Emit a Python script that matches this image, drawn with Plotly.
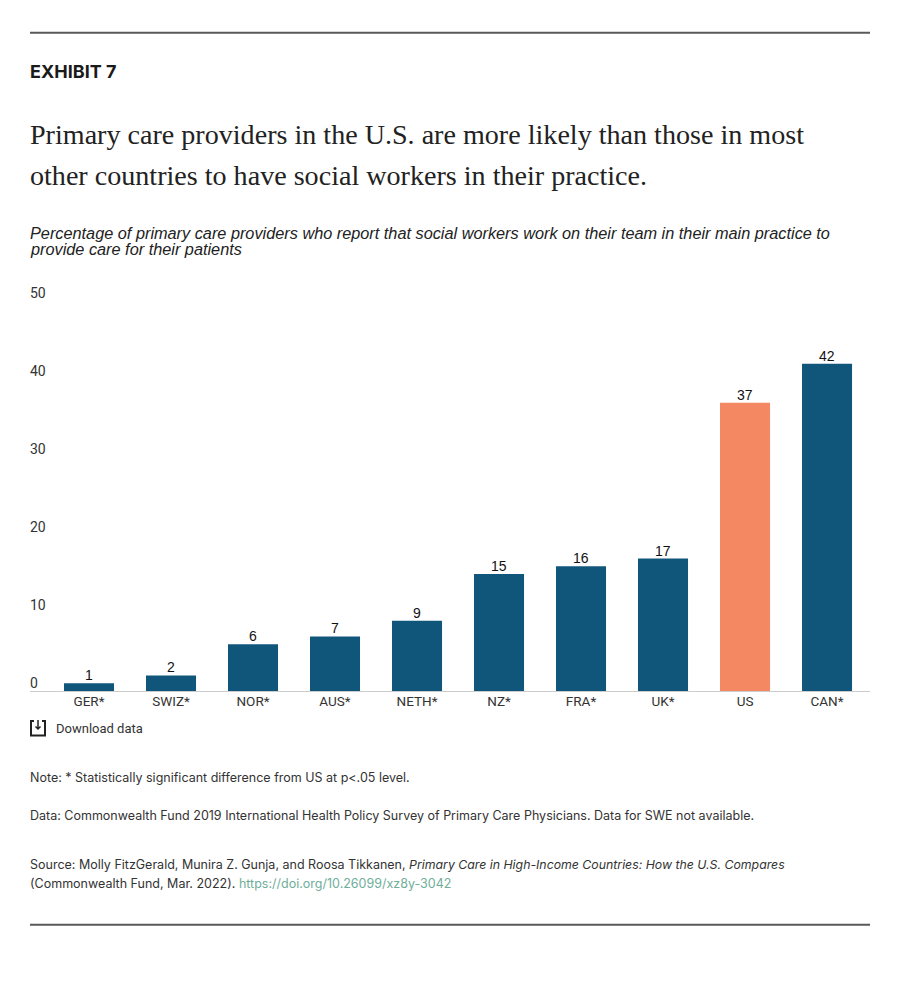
import plotly.graph_objects as go

countries = ["GER*", "SWIZ*", "NOR*", "AUS*", "NETH*", "NZ*", "FRA*", "UK*", "US", "CAN*"]
values = [1, 2, 6, 7, 9, 15, 16, 17, 37, 42]
y_ticks = [0, 10, 20, 30, 40, 50]

NAVY = "#10567b"
ORANGE = "#f38863"
colors = [ORANGE if c == "US" else NAVY for c in countries]

W, H = 900, 987
# y range runs past 50 so plotly keeps the shifted "50" tick label
Y_MAX = 53
LEFT, RIGHT, BOTTOM = 30, 870, 691
TOP = BOTTOM - 7.8 * Y_MAX


def px_x(x):
    return (x - LEFT) / (RIGHT - LEFT)


def px_y(y):
    return (BOTTOM - y) / (BOTTOM - TOP)


def label(x, y, text, family, size, color="#222222", **font_args):
    # y is the vertical middle of the line in page pixels
    fig.add_annotation(
        x=px_x(x), y=px_y(y), xref="paper", yref="paper", text=text,
        showarrow=False, xanchor="left", yanchor="middle", align="left",
        borderpad=0, borderwidth=0,
        font=dict(family=family, size=size, color=color, **font_args),
    )


def rule(y):
    fig.add_shape(type="line", xref="paper", yref="paper",
                  x0=0, x1=1, y0=px_y(y), y1=px_y(y),
                  line=dict(color="#58595b", width=2))


fig = go.Figure(go.Bar(
    x=countries, y=values, marker_color=colors, marker_line_width=0,
    cliponaxis=False, hoverinfo="x+y",
))

# value labels sit closer to the bars than textposition="outside" allows
for c, v in zip(countries, values):
    fig.add_annotation(x=c, y=v, text=str(v), showarrow=False, yanchor="bottom",
                       yshift=0, borderpad=0, borderwidth=0,
                       font=dict(family="Liberation Sans", size=14, color="#111111"))

fig.update_layout(
    width=W, height=H, autosize=False,
    margin=dict(l=LEFT, r=W - RIGHT, t=TOP, b=H - BOTTOM, pad=0),
    paper_bgcolor="white", plot_bgcolor="white",
    showlegend=False, bargap=0.39,
)
fig.update_xaxes(
    type="category", range=[-0.7195, 9.524], showgrid=False, zeroline=False,
    showline=True, linecolor="#cccccc", linewidth=1, ticks="", ticklen=0,
    ticklabelstandoff=-2,
    tickfont=dict(family="Roboto", size=13.5, color="#333333"),
    fixedrange=True,
)
fig.update_yaxes(
    range=[0, Y_MAX], tickmode="array", tickvals=y_ticks, showgrid=False,
    zeroline=False, showline=False, ticks="", ticklen=0,
    ticklabelposition="inside", ticklabelshift=-8, ticklabelstandoff=-3,
    tickfont=dict(family="Roboto", size=14, color="#333333"),
    fixedrange=True,
)

rule(32)
rule(925)

label(30, 71, "<b>EXHIBIT 7</b>", "Inter", 18, "#1a1a1a")
label(30, 133.5, "Primary care providers in the U.S. are more likely than those in most",
      "Liberation Serif", 28.1, "#222222")
label(30, 175.5, "other countries to have social workers in their practice.",
      "Liberation Serif", 28.1, "#222222")
label(30, 233, "<i>Percentage of primary care providers who report that social workers work on their team in their main practice to</i>",
      "Liberation Sans", 16.3)
label(30, 249, "<i>provide care for their patients</i>", "Liberation Sans", 16.3)

label(55.5, 728.5, "Download data", "Roboto", 13, "#333333")
fig.add_shape(type="path", xref="paper", yref="paper", line=dict(color="#222222", width=2),
              path="M {} {} L {} {} L {} {} L {} {} L {} {}".format(
                  px_x(34), px_y(721), px_x(31), px_y(721), px_x(31), px_y(735.5),
                  px_x(45), px_y(735.5), px_x(45), px_y(721)) +
              " L {} {}".format(px_x(42), px_y(721)))
fig.add_shape(type="path", xref="paper", yref="paper", line=dict(color="#222222", width=1.5),
              path="M {} {} L {} {} M {} {} L {} {} L {} {}".format(
                  px_x(38), px_y(720), px_x(38), px_y(729),
                  px_x(35.5), px_y(726.5), px_x(38), px_y(729), px_x(40.5), px_y(726.5)))

label(30, 777.6, "Note: * Statistically significant difference from US at p&lt;.05 level.", "Inter", 12.5, "#333333")
label(30, 815.6, "Data: Commonwealth Fund 2019 International Health Policy Survey of Primary Care Physicians. Data for SWE not available.",
      "Inter", 12.5, "#333333")
label(30, 864.6, "Source: Molly FitzGerald, Munira Z. Gunja, and Roosa Tikkanen, <span style='font-size:12.3px'><i>Primary Care in High-Income Countries: How the U.S. Compares</i></span>",
      "Inter", 12.5, "#333333")
label(30, 883.6, "(Commonwealth Fund, Mar. 2022). <span style='color:#6fae9a'>https://doi.org/10.26099/xz8y-3042</span>",
      "Inter", 12.5, "#333333")

fig.write_html("out.html", config=dict(displayModeBar=False),
               post_script="document.body.style.margin='0';")
